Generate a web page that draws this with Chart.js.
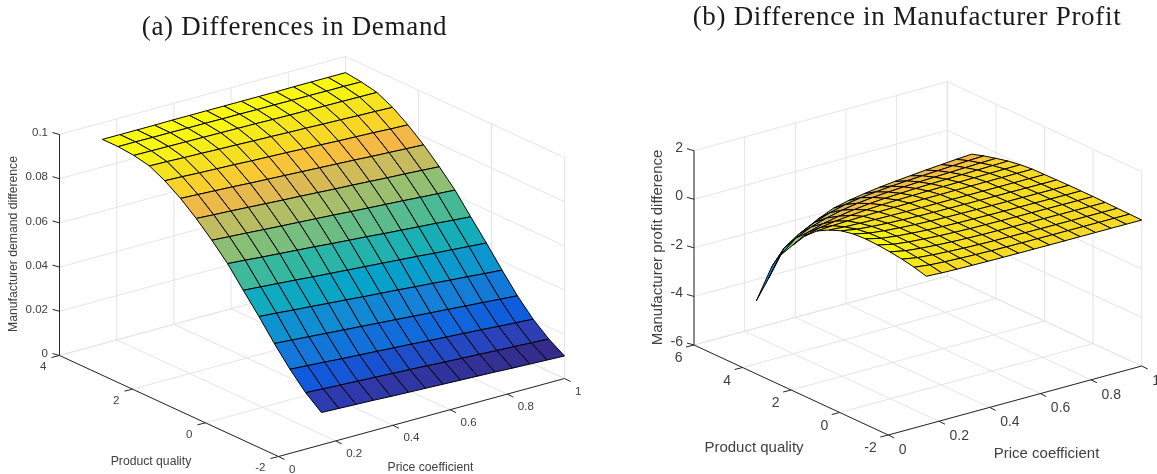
<!DOCTYPE html>
<html>
<head>
<meta charset="utf-8">
<title>Differences in demand and profit</title>
<script src="https://cdn.jsdelivr.net/npm/chart.js@4"></script>
<style>
  html, body { margin: 0; padding: 0; background: #fff; overflow: hidden; }
  canvas { position: absolute; top: 0; }
  #demandChart { left: 0; }
  #profitChart { left: 600px; }
</style>
</head>
<body>
<canvas id="demandChart" width="600" height="474"></canvas>
<canvas id="profitChart" width="557" height="474"></canvas>
<script>
/* ===============================
   DATA
================================ */
const priceGrid = [0.15, 0.211, 0.271, 0.332, 0.393, 0.454, 0.514, 0.575, 0.636, 0.696, 0.757, 0.818, 0.879, 0.939, 1];

const demandQuality = [-2, -1.57, -1.14, -0.71, -0.29, 0.14, 0.57, 1, 1.43, 1.86, 2.29, 2.71, 3.14, 3.57, 4];
// one row per quality value, one column per price value
const demandDiff = [
  [.0146, .0143, .0140, .0137, .0133, .0130, .0127, .0124, .0121, .0118, .0115, .0111, .0108, .0105, .0102],
  [.0203, .0199, .0195, .0191, .0187, .0183, .0179, .0175, .0170, .0166, .0162, .0158, .0154, .0150, .0146],
  [.0276, .0271, .0266, .0260, .0255, .0250, .0245, .0240, .0234, .0229, .0224, .0219, .0213, .0208, .0203],
  [.0360, .0354, .0348, .0342, .0336, .0330, .0324, .0318, .0312, .0306, .0300, .0294, .0288, .0282, .0276],
  [.0450, .0444, .0437, .0431, .0424, .0418, .0411, .0405, .0399, .0392, .0386, .0379, .0373, .0366, .0360],
  [.0536, .0530, .0524, .0518, .0511, .0505, .0499, .0493, .0487, .0481, .0475, .0468, .0462, .0456, .0450],
  [.0624, .0618, .0611, .0605, .0599, .0593, .0586, .0580, .0574, .0567, .0561, .0555, .0549, .0542, .0536],
  [.0697, .0692, .0687, .0681, .0676, .0671, .0666, .0661, .0655, .0650, .0645, .0640, .0634, .0629, .0624],
  [.0763, .0758, .0754, .0749, .0744, .0739, .0735, .0730, .0725, .0721, .0716, .0711, .0707, .0702, .0697],
  [.0821, .0817, .0813, .0809, .0804, .0800, .0796, .0792, .0788, .0784, .0780, .0775, .0771, .0767, .0763],
  [.0868, .0865, .0861, .0858, .0855, .0851, .0848, .0845, .0841, .0838, .0834, .0831, .0828, .0824, .0821],
  [.0903, .0901, .0898, .0896, .0893, .0891, .0888, .0886, .0883, .0881, .0878, .0876, .0873, .0871, .0868],
  [.0918, .0917, .0916, .0915, .0914, .0913, .0912, .0911, .0909, .0908, .0907, .0906, .0905, .0904, .0903],
  [.0925, .0925, .0924, .0924, .0923, .0923, .0922, .0922, .0921, .0921, .0920, .0920, .0919, .0919, .0918],
  [.0925, .0925, .0925, .0925, .0926, .0926, .0926, .0926, .0926, .0926, .0926, .0927, .0927, .0927, .0927],
];
const demandPriceTicks = [0, 0.2, 0.4, 0.6, 0.8, 1];
const demandQualityTicks = [-2, 0, 2, 4];
const demandDiffTicks = [0, 0.02, 0.04, 0.06, 0.08, 0.1];

const profitQuality = [-2, -1.5, -1, -0.5, 0, 0.5, 1, 1.5, 2, 2.5, 3, 3.5, 4, 4.5, 5];
const profitDiff = [
  [.11, .076, .058, .046, .036, .029, .025, .022, .019, .017, .016, .014, .013, .011, .01],
  [.25, .172, .130, .102, .080, .064, .053, .046, .041, .036, .033, .029, .026, .022, .02],
  [.35, .241, .184, .144, .113, .091, .076, .067, .059, .052, .048, .043, .038, .033, .03],
  [.42, .291, .222, .175, .139, .112, .095, .084, .074, .067, .061, .055, .050, .044, .04],
  [.47, .327, .252, .199, .159, .130, .111, .098, .088, .079, .073, .067, .061, .054, .05],
  [.49, .340, .261, .206, .164, .134, .114, .101, .090, .081, .074, .068, .061, .054, .05],
  [.46, .321, .247, .196, .157, .128, .109, .097, .087, .079, .073, .066, .060, .054, .05],
  [.36, .251, .194, .154, .123, .101, .086, .077, .069, .062, .058, .053, .048, .043, .04],
  [.16, .116, .092, .076, .064, .055, .049, .045, .042, .039, .037, .035, .033, .031, .03],
  [-.11, -.066, -.042, -.026, -.014, -.005, .001, .005, .008, .011, .013, .015, .017, .019, .02],
  [-.55, -.373, -.28, -.215, -.165, -.129, -.105, -.09, -.077, -.066, -.059, -.051, -.043, -.035, -.03],
  [-1.16, -.803, -.614, -.483, -.383, -.31, -.262, -.231, -.205, -.184, -.168, -.152, -.136, -.121, -.11],
  [-1.8, -1.266, -.984, -.787, -.638, -.528, -.458, -.411, -.371, -.34, -.316, -.293, -.269, -.246, -.23],
  [-3.0, -1.924, -1.498, -1.201, -.976, -.81, -.704, -.633, -.573, -.526, -.49, -.455, -.419, -.384, -.36],
  [-4.15, -2.91, -2.26, -1.81, -1.47, -1.2, -1.05, -.94, -.85, -.78, -.72, -.66, -.61, -.56, -.52],
];
const profitPriceTicks = [0, 0.2, 0.4, 0.6, 0.8, 1];
const profitQualityTicks = [-2, 0, 2, 4, 6];
const profitDiffTicks = [-6, -4, -2, 0, 2];

// parula colour stops, evenly spaced from low to high
const parula = [
  "#352a87", "#2c40b8", "#0f5cdd", "#1272d9", "#1481d6", "#0e93d0", "#06a4ca", "#15aeb8", "#2eb7a4",
  "#5abb8c", "#87bf77", "#adbe67", "#d1bb59", "#f6b845", "#f8d428", "#f5e41c", "#f9fb0e",
];

/* ===============================
   HELPERS
================================ */
function hexToRgb(h) {
  return [1, 3, 5].map((i) => parseInt(h.substr(i, 2), 16));
}

function parulaColor(t) {
  const p = Math.max(0, Math.min(1, t)) * (parula.length - 1);
  const i = Math.min(Math.floor(p), parula.length - 2);
  const a = hexToRgb(parula[i]);
  const b = hexToRgb(parula[i + 1]);
  const c = a.map((v, n) => Math.round(v + (b[n] - v) * (p - i)));
  return "rgb(" + c.join(",") + ")";
}

function makeSurfaceChart(id, cfg) {
  const last = (a) => a[a.length - 1];

  // orthographic view: each axis is one screen vector from the near floor corner
  function project(x, q, z) {
    const a = (x - cfg.price[0]) / (last(cfg.price) - cfg.price[0]);
    const b = (q - cfg.quality[0]) / (last(cfg.quality) - cfg.quality[0]);
    const c = (z - cfg.diff[0]) / (last(cfg.diff) - cfg.diff[0]);
    return {
      x: cfg.corner[0] + cfg.priceVec[0] * a + cfg.qualityVec[0] * b,
      y: cfg.corner[1] + cfg.priceVec[1] * a + cfg.qualityVec[1] * b - cfg.height * c,
    };
  }

  const xMin = cfg.price[0], xMax = last(cfg.price);
  const qMin = cfg.quality[0], qMax = last(cfg.quality);
  const zMin = cfg.diff[0], zMax = last(cfg.diff);

  const flat = cfg.values.flat();
  const low = Math.min(...flat);
  const high = Math.max(...flat);

  const datasets = [];

  // first dataset is painted last, so the nearest faces go first
  cfg.values.forEach((row, k) => {
    if (k === cfg.values.length - 1) return;
    row.forEach((v, j) => {
      if (j === row.length - 1) return;
      const p0 = project(cfg.gridPrice[j], cfg.gridQuality[k], v);
      const p1 = project(cfg.gridPrice[j + 1], cfg.gridQuality[k], row[j + 1]);
      const p2 = project(cfg.gridPrice[j + 1], cfg.gridQuality[k + 1], cfg.values[k + 1][j + 1]);
      const p3 = project(cfg.gridPrice[j], cfg.gridQuality[k + 1], cfg.values[k + 1][j]);
      datasets.push({
        data: [p0, p1, p2, p3, p0],
        showLine: true,
        fill: "shape",
        backgroundColor: parulaColor((v - low) / (high - low)),
        borderColor: "#000",
        borderWidth: 1,
        pointRadius: 0,
        clip: false,
      });
    });
  });

  function addLine(a, b, color) {
    datasets.push({
      data: [a, b],
      showLine: true,
      fill: false,
      borderColor: color,
      borderWidth: 1,
      pointRadius: 0,
      clip: false,
    });
  }

  // box axes and ticks
  const AXIS = "#262626";
  addLine(project(xMin, qMax, zMin), project(xMin, qMax, zMax), AXIS);
  addLine(project(xMin, qMax, zMin), project(xMin, qMin, zMin), AXIS);
  addLine(project(xMin, qMin, zMin), project(xMax, qMin, zMin), AXIS);

  const tickOff = (p, d) => ({ x: p.x + d[0], y: p.y + d[1] });
  cfg.diff.forEach((z) => {
    const p = project(xMin, qMax, z);
    addLine(p, tickOff(p, cfg.tickZ), AXIS);
  });
  cfg.quality.forEach((q) => {
    const p = project(xMin, q, zMin);
    addLine(p, tickOff(p, cfg.tickQ), AXIS);
  });
  cfg.price.forEach((x) => {
    const p = project(x, qMin, zMin);
    addLine(p, tickOff(p, cfg.tickX), AXIS);
  });

  // grid on the floor and the two back walls
  const GRID = "#e4e4e4";
  cfg.price.forEach((x) => {
    addLine(project(x, qMin, zMin), project(x, qMax, zMin), GRID);
    addLine(project(x, qMax, zMin), project(x, qMax, zMax), GRID);
  });
  cfg.quality.forEach((q) => {
    addLine(project(xMin, q, zMin), project(xMax, q, zMin), GRID);
    addLine(project(xMax, q, zMin), project(xMax, q, zMax), GRID);
  });
  cfg.diff.forEach((z) => {
    addLine(project(xMin, qMax, z), project(xMax, qMax, z), GRID);
    addLine(project(xMax, qMax, z), project(xMax, qMin, z), GRID);
  });

  // tick labels, axis labels and the title
  const labelsPlugin = {
    id: "labels3d",
    afterDraw(chart) {
      const ctx = chart.ctx;
      const sx = chart.scales.x;
      const sy = chart.scales.y;
      const put = (text, x, y, align, font) => {
        ctx.textAlign = align;
        ctx.textBaseline = "middle";
        ctx.font = font;
        ctx.fillText(text, sx.getPixelForValue(x), sy.getPixelForValue(y));
      };
      const tickFont = cfg.tickSize + "px 'Liberation Sans'";
      const labelFont = cfg.labelSize + "px 'Liberation Sans'";
      ctx.save();
      ctx.fillStyle = "#404040";
      cfg.diff.forEach((z) => {
        const p = project(xMin, qMax, z);
        put(String(z), cfg.zLabelX, p.y + cfg.zLabelDy, "right", tickFont);
      });
      cfg.quality.forEach((q) => {
        const p = project(xMin, q, zMin);
        put(String(q), p.x + cfg.qLabelOff[0], p.y + cfg.qLabelOff[1], "right", tickFont);
      });
      cfg.price.forEach((x) => {
        const p = project(x, qMin, zMin);
        put(String(x), p.x + cfg.xLabelOff[0], p.y + cfg.xLabelOff[1], "left", tickFont);
      });
      put("Product quality", cfg.qTitle[0], cfg.qTitle[1], "center", labelFont);
      put("Price coefficient", cfg.xTitle[0], cfg.xTitle[1], "center", labelFont);

      ctx.save();
      ctx.translate(sx.getPixelForValue(cfg.zTitle[0]), sy.getPixelForValue(cfg.zTitle[1]));
      ctx.rotate(-Math.PI / 2);
      ctx.textAlign = "center";
      ctx.textBaseline = "middle";
      ctx.font = labelFont;
      ctx.fillText(cfg.zText, 0, 0);
      ctx.restore();

      ctx.fillStyle = "#1a1a1a";
      ctx.letterSpacing = "0.7px";
      put(cfg.title, cfg.titlePos[0], cfg.titlePos[1], "center", cfg.titleSize + "px 'Liberation Serif'");
      ctx.restore();
    },
  };

  new Chart(document.getElementById(id), {
    type: "scatter",
    data: { datasets: datasets },
    plugins: [labelsPlugin],
    options: {
      responsive: false,
      animation: false,
      events: [],
      elements: { line: { tension: 0, borderJoinStyle: "round" } },
      layout: { padding: 0 },
      plugins: { legend: { display: false }, tooltip: { enabled: false }, title: { display: false } },
      scales: {
        x: { type: "linear", display: false, min: cfg.left, max: cfg.right },
        y: { type: "linear", display: false, min: 0, max: 474, reverse: true },
      },
    },
  });
}

/* ===============================
   (A) DEMAND SURFACE
================================ */
makeSurfaceChart("demandChart", {
  left: 0,
  right: 600,
  gridPrice: priceGrid,
  gridQuality: demandQuality,
  values: demandDiff,
  price: demandPriceTicks,
  quality: demandQualityTicks,
  diff: demandDiffTicks,
  corner: [278.5, 456.5],
  priceVec: [286, -78],
  qualityVec: [-219, -101],
  height: 221,
  tickZ: [-7, -2],
  tickQ: [-8, 2],
  tickX: [6, 3],
  tickSize: 11.5,
  labelSize: 12.2,
  zLabelX: 48,
  zLabelDy: -1.5,
  qLabelOff: [-13, 11.5],
  xLabelOff: [10.5, 13],
  qTitle: [151, 461.5],
  xTitle: [430.5, 467.5],
  zTitle: [14, 244],
  zText: "Manufacturer demand difference",
  title: "(a) Differences in Demand",
  titlePos: [294.5, 28],
  titleSize: 27,
});

/* ===============================
   (B) PROFIT SURFACE
================================ */
makeSurfaceChart("profitChart", {
  left: 600,
  right: 1157,
  gridPrice: priceGrid,
  gridQuality: profitQuality,
  values: profitDiff,
  price: profitPriceTicks,
  quality: profitQualityTicks,
  diff: profitDiffTicks,
  corner: [888.3, 435],
  priceVec: [253.4, -69],
  qualityVec: [-194.3, -90],
  height: 194.3,
  tickZ: [-7, -2],
  tickQ: [-8, 2],
  tickX: [6, 3],
  tickSize: 14,
  labelSize: 15,
  zLabelX: 683,
  zLabelDy: -3,
  qLabelOff: [-11.5, 13.5],
  xLabelOff: [10.5, 15],
  qTitle: [754, 448],
  xTitle: [1046.5, 453.5],
  zTitle: [657.5, 247.5],
  zText: "Manufacturer profit difference",
  title: "(b) Difference in Manufacturer Profit",
  titlePos: [907, 18],
  titleSize: 27,
});
</script>
</body>
</html>
